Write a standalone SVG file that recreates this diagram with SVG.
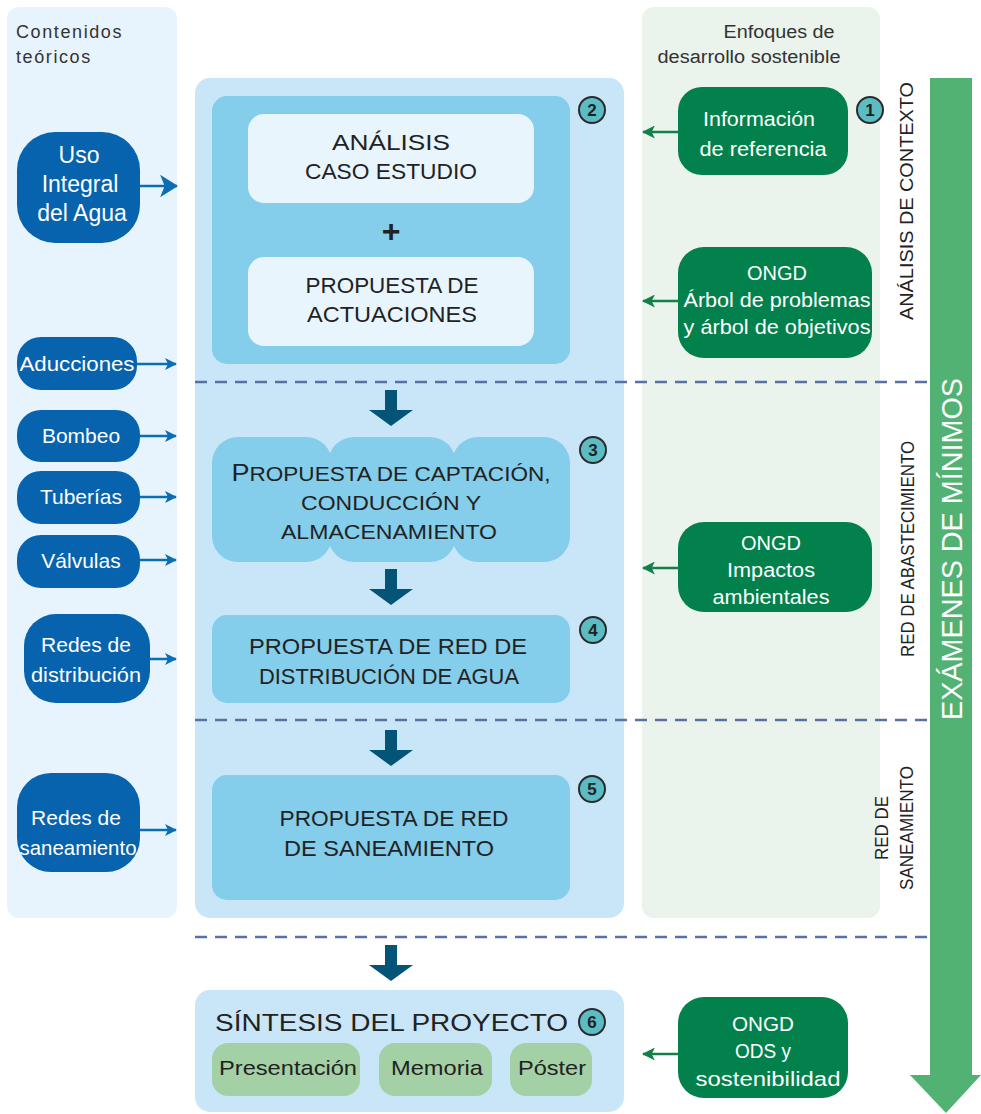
<svg xmlns="http://www.w3.org/2000/svg" width="981" height="1114" viewBox="0 0 981 1114">
<style>
.t{font-family:"Liberation Sans",Arial,sans-serif}
.dk{fill:#222}
.wh{fill:#fff}
.bnode{fill:#0763ad}
.gnode{fill:#02814c}
.inner{fill:#84cdeb}
.outer{fill:#c9e6f8}
.circ{fill:#5bbcc4;stroke:#2b2b2b;stroke-width:2}
.num{font-family:"Liberation Sans",Arial,sans-serif;font-weight:bold;font-size:17px;fill:#222;text-anchor:middle}
.dash{stroke:#5a6fa3;stroke-width:2.5;stroke-dasharray:12 8;fill:none}
.barr{stroke:#0b6db3;stroke-width:2.5;fill:none}
.garr{stroke:#138049;stroke-width:2.5;fill:none}
.c{text-anchor:middle}
</style>
<defs>
<marker id="bh" viewBox="0 0 12 12" refX="11" refY="6" markerWidth="12" markerHeight="12" markerUnits="userSpaceOnUse" orient="auto">
<path d="M0,0 L12,6 L0,12 L3,6 Z" fill="#0b6db3"/>
</marker>
<marker id="bhb" viewBox="0 0 16 20" refX="15" refY="10" markerWidth="18" markerHeight="26" markerUnits="userSpaceOnUse" orient="auto">
<path d="M0,0 L16,10 L0,20 L4,10 Z" fill="#0b6db3"/>
</marker>
<marker id="gh" viewBox="0 0 12 12" refX="11" refY="6" markerWidth="13" markerHeight="13" markerUnits="userSpaceOnUse" orient="auto">
<path d="M0,0 L12,6 L0,12 L3,6 Z" fill="#138049"/>
</marker>
<path id="darr" d="M-6,0 H6 V20 H22 L0,36 L-22,20 H-6 Z" fill="#045477"/>
</defs>

<!-- background panels -->
<g id="panel-left">
<rect x="7" y="7" width="170" height="911" rx="12" fill="#e8f4fd"/>
<text class="t" x="16" y="38" font-size="18" fill="#333" letter-spacing="1.6">Contenidos</text>
<text class="t" x="16" y="63" font-size="18" fill="#333" letter-spacing="1.6">teóricos</text>
</g>
<g id="panel-right">
<rect x="642" y="7" width="238" height="911" rx="12" fill="#eaf3ec"/>
<text class="t c" x="779" y="38" font-size="18" fill="#333" textLength="111" lengthAdjust="spacingAndGlyphs">Enfoques de</text>
<text class="t c" x="749" y="63" font-size="18" fill="#333" textLength="183" lengthAdjust="spacingAndGlyphs">desarrollo sostenible</text>
</g>
<g id="panel-main">
<rect class="outer" x="195" y="78" width="429" height="840" rx="15"/>
</g>

<!-- big green arrow -->
<g id="examenes">
<path d="M930,78 H972 V1075 H981 L946,1113 L910,1075 H930 Z" fill="#52b273"/>
<text class="t c wh" transform="translate(962,549) rotate(-90)" font-size="29" textLength="342" lengthAdjust="spacingAndGlyphs">EXÁMENES DE MÍNIMOS</text>
</g>

<!-- phase labels -->
<g id="phase-labels">
<text class="t c dk" transform="translate(913,201) rotate(-90)" font-size="19" textLength="238" lengthAdjust="spacingAndGlyphs">ANÁLISIS DE CONTEXTO</text>
<text class="t c dk" transform="translate(914,549) rotate(-90)" font-size="18" textLength="216" lengthAdjust="spacingAndGlyphs">RED DE ABASTECIMIENTO</text>
<text class="t c dk" transform="translate(888,828) rotate(-90)" font-size="18" textLength="64" lengthAdjust="spacingAndGlyphs">RED DE</text>
<text class="t c dk" transform="translate(913,828) rotate(-90)" font-size="18" textLength="124" lengthAdjust="spacingAndGlyphs">SANEAMIENTO</text>
</g>

<!-- connectors -->
<g id="connectors">
<line class="dash" x1="195" y1="382" x2="930" y2="382"/>
<line class="dash" x1="195" y1="720" x2="930" y2="720"/>
<line class="dash" x1="195" y1="937" x2="930" y2="937"/>
<use href="#darr" x="391" y="390"/>
<use href="#darr" x="391" y="569"/>
<use href="#darr" x="391" y="730"/>
<use href="#darr" x="391" y="945"/>
<line class="barr" x1="140" y1="186" x2="177" y2="186" stroke-width="5" marker-end="url(#bhb)"/>
<line class="barr" x1="137" y1="364" x2="176" y2="364" marker-end="url(#bh)"/>
<line class="barr" x1="140" y1="436" x2="176" y2="436" marker-end="url(#bh)"/>
<line class="barr" x1="140" y1="497" x2="176" y2="497" marker-end="url(#bh)"/>
<line class="barr" x1="140" y1="560" x2="176" y2="560" marker-end="url(#bh)"/>
<line class="barr" x1="150" y1="659" x2="176" y2="659" marker-end="url(#bh)"/>
<line class="barr" x1="140" y1="830" x2="176" y2="830" marker-end="url(#bh)"/>
<line class="garr" x1="678" y1="132" x2="643" y2="132" marker-end="url(#gh)"/>
<line class="garr" x1="678" y1="301" x2="643" y2="301" marker-end="url(#gh)"/>
<line class="garr" x1="678" y1="568" x2="643" y2="568" marker-end="url(#gh)"/>
<line class="garr" x1="678" y1="1054" x2="643" y2="1054" marker-end="url(#gh)"/>
</g>

<!-- left nodes -->
<g id="uso-integral">
<rect class="bnode" x="17" y="132" width="123" height="111" rx="38"/>
<text class="t c wh" x="79" y="163" font-size="23">Uso</text>
<text class="t c wh" x="80" y="192" font-size="23">Integral</text>
<text class="t c wh" x="82" y="221" font-size="23">del Agua</text>
</g>
<g id="aducciones">
<rect class="bnode" x="17" y="337" width="120" height="53" rx="24"/>
<text class="t c wh" x="77" y="371" font-size="21" textLength="115" lengthAdjust="spacingAndGlyphs">Aducciones</text>
</g>
<g id="bombeo">
<rect class="bnode" x="17" y="410" width="123" height="52" rx="24"/>
<text class="t c wh" x="81" y="443" font-size="21">Bombeo</text>
</g>
<g id="tuberias">
<rect class="bnode" x="17" y="471" width="123" height="53" rx="24"/>
<text class="t c wh" x="81" y="504" font-size="21">Tuberías</text>
</g>
<g id="valvulas">
<rect class="bnode" x="17" y="535" width="123" height="53" rx="24"/>
<text class="t c wh" x="81" y="568" font-size="21">Válvulas</text>
</g>
<g id="redes-distribucion">
<rect class="bnode" x="24" y="614" width="126" height="89" rx="32"/>
<text class="t c wh" x="86" y="652" font-size="21">Redes de</text>
<text class="t c wh" x="86" y="682" font-size="21" textLength="110" lengthAdjust="spacingAndGlyphs">distribución</text>
</g>
<g id="redes-saneamiento">
<rect class="bnode" x="17" y="773" width="123" height="99" rx="34"/>
<text class="t c wh" x="76" y="825" font-size="21">Redes de</text>
<text class="t c wh" x="78" y="855" font-size="21" textLength="117" lengthAdjust="spacingAndGlyphs">saneamiento</text>
</g>

<!-- step 2 -->
<g id="paso-2">
<rect class="inner" x="212" y="96" width="358" height="268" rx="15"/>
<rect x="248" y="114" width="286" height="89" rx="16" fill="#e8f5fd"/>
<rect x="248" y="257" width="286" height="89" rx="16" fill="#e8f5fd"/>
<text class="t c dk" x="391" y="150" font-size="22" textLength="118" lengthAdjust="spacingAndGlyphs">ANÁLISIS</text>
<text class="t c dk" x="391" y="179" font-size="22" textLength="172" lengthAdjust="spacingAndGlyphs">CASO ESTUDIO</text>
<text class="t c dk" x="391" y="242" font-size="32" font-weight="bold">+</text>
<text class="t c dk" x="392" y="293" font-size="22" textLength="173" lengthAdjust="spacingAndGlyphs">PROPUESTA DE</text>
<text class="t c dk" x="392" y="322" font-size="22" textLength="170" lengthAdjust="spacingAndGlyphs">ACTUACIONES</text>
<circle class="circ" cx="592" cy="110" r="13"/>
<text class="num" x="592" y="116">2</text>
</g>

<!-- step 3 -->
<g id="paso-3">
<rect class="inner" x="212" y="437" width="120" height="125" rx="26"/>
<rect class="inner" x="328" y="437" width="128" height="125" rx="26"/>
<rect class="inner" x="452" y="437" width="118" height="125" rx="26"/>
<text class="t c dk" x="391" y="481" font-size="20" textLength="319" lengthAdjust="spacingAndGlyphs"><tspan font-size="24">P</tspan>ROPUESTA DE CAPTACIÓN,</text>
<text class="t c dk" x="391" y="510" font-size="20" textLength="180" lengthAdjust="spacingAndGlyphs">CONDUCCIÓN Y</text>
<text class="t c dk" x="389" y="539" font-size="20" textLength="216" lengthAdjust="spacingAndGlyphs">ALMACENAMIENTO</text>
<circle class="circ" cx="593" cy="450" r="13"/>
<text class="num" x="593" y="456">3</text>
</g>

<!-- step 4 -->
<g id="paso-4">
<rect class="inner" x="212" y="615" width="358" height="88" rx="15"/>
<text class="t c dk" x="388" y="654" font-size="22" textLength="278" lengthAdjust="spacingAndGlyphs">PROPUESTA DE RED DE</text>
<text class="t c dk" x="389" y="684" font-size="22" textLength="260" lengthAdjust="spacingAndGlyphs">DISTRIBUCIÓN DE AGUA</text>
<circle class="circ" cx="593" cy="630" r="13"/>
<text class="num" x="593" y="636">4</text>
</g>

<!-- step 5 -->
<g id="paso-5">
<rect class="inner" x="212" y="775" width="358" height="125" rx="15"/>
<text class="t c dk" x="394" y="826" font-size="22" textLength="229" lengthAdjust="spacingAndGlyphs">PROPUESTA DE RED</text>
<text class="t c dk" x="389" y="856" font-size="22" textLength="210" lengthAdjust="spacingAndGlyphs">DE SANEAMIENTO</text>
<circle class="circ" cx="592" cy="789" r="13"/>
<text class="num" x="592" y="795">5</text>
</g>

<!-- step 6 -->
<g id="paso-6">
<rect class="outer" x="195" y="990" width="429" height="122" rx="15"/>
<text class="t dk" x="215" y="1031" font-size="24" textLength="353" lengthAdjust="spacingAndGlyphs">SÍNTESIS DEL PROYECTO</text>
<circle class="circ" cx="592" cy="1022" r="13"/>
<text class="num" x="592" y="1028">6</text>
<rect x="212" y="1043" width="148" height="53" rx="16" fill="#a3d1a5"/>
<rect x="379" y="1043" width="113" height="53" rx="16" fill="#a3d1a5"/>
<rect x="510" y="1043" width="82" height="53" rx="16" fill="#a3d1a5"/>
<text class="t c dk" x="288" y="1075" font-size="21" textLength="138" lengthAdjust="spacingAndGlyphs">Presentación</text>
<text class="t c dk" x="437" y="1075" font-size="21" textLength="92" lengthAdjust="spacingAndGlyphs">Memoria</text>
<text class="t c dk" x="552" y="1075" font-size="21" textLength="68" lengthAdjust="spacingAndGlyphs">Póster</text>
</g>

<!-- right nodes -->
<g id="informacion">
<rect class="gnode" x="678" y="87" width="170" height="88" rx="24"/>
<text class="t c wh" x="759" y="126" font-size="20" textLength="112" lengthAdjust="spacingAndGlyphs">Información</text>
<text class="t c wh" x="763" y="156" font-size="20" textLength="127" lengthAdjust="spacingAndGlyphs">de referencia</text>
<circle class="circ" cx="870" cy="110" r="13"/>
<text class="num" x="870" y="116">1</text>
</g>
<g id="ongd-arbol">
<rect class="gnode" x="678" y="247" width="194" height="111" rx="26"/>
<text class="t c wh" x="777" y="280" font-size="20">ONGD</text>
<text class="t c wh" x="777" y="307" font-size="20" textLength="187" lengthAdjust="spacingAndGlyphs">Árbol de problemas</text>
<text class="t c wh" x="777" y="334" font-size="20" textLength="187" lengthAdjust="spacingAndGlyphs">y árbol de objetivos</text>
</g>
<g id="ongd-impactos">
<rect class="gnode" x="678" y="522" width="194" height="90" rx="26"/>
<text class="t c wh" x="771" y="550" font-size="20">ONGD</text>
<text class="t c wh" x="771" y="577" font-size="20" textLength="88" lengthAdjust="spacingAndGlyphs">Impactos</text>
<text class="t c wh" x="771" y="604" font-size="20" textLength="117" lengthAdjust="spacingAndGlyphs">ambientales</text>
</g>
<g id="ongd-ods">
<rect class="gnode" x="678" y="997" width="170" height="101" rx="26"/>
<text class="t c wh" x="763" y="1031" font-size="20" textLength="62" lengthAdjust="spacingAndGlyphs">ONGD</text>
<text class="t c wh" x="763" y="1058" font-size="20" textLength="56" lengthAdjust="spacingAndGlyphs">ODS y</text>
<text class="t c wh" x="768" y="1086" font-size="20" textLength="145" lengthAdjust="spacingAndGlyphs">sostenibilidad</text>
</g>
</svg>
